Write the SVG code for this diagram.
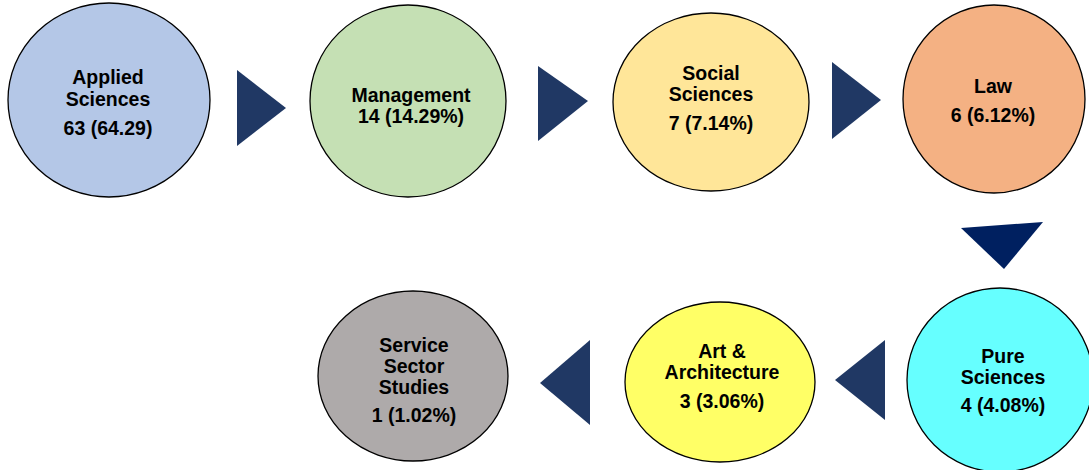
<svg xmlns="http://www.w3.org/2000/svg" width="1089" height="470" viewBox="0 0 1089 470">
<style>
.n ellipse{stroke:#000;stroke-width:1.3}
.t{font-family:"Liberation Sans",Arial,sans-serif;font-weight:bold;font-size:19.5px;fill:#000;text-anchor:middle}
.a{fill:#203864}
</style>
<rect width="1089" height="470" fill="#fff"/>
<g id="connectors">
<polygon class="a" points="237,70 286,108 237,146"/>
<polygon class="a" points="538,66 588,101 538,141"/>
<polygon class="a" points="832,62 881,100 832,139"/>
<polygon class="a" points="961,228 1043,222 1004,269" style="fill:#002060"/>
<polygon class="a" points="885,340 835,380 885,420"/>
<polygon class="a" points="590,340 540,383 590,425"/>
</g>
<g id="applied" class="n"><ellipse cx="109" cy="100" rx="101" ry="97" fill="#b4c7e7"/>
<text class="t" x="108" y="84">Applied</text><text class="t" x="108" y="106">Sciences</text><text class="t" x="108" y="135">63 (64.29)</text></g>
<g id="management" class="n"><ellipse cx="408" cy="101" rx="98" ry="96" fill="#c5e0b4"/>
<text class="t" x="411" y="102">Management</text><text class="t" x="411" y="123">14 (14.29%)</text></g>
<g id="social" class="n"><ellipse cx="711" cy="102" rx="98" ry="89" fill="#ffe699"/>
<text class="t" x="711" y="80">Social</text><text class="t" x="711" y="101">Sciences</text><text class="t" x="711" y="130">7 (7.14%)</text></g>
<g id="law" class="n"><ellipse cx="994" cy="99" rx="91" ry="94" fill="#f4b183"/>
<text class="t" x="993" y="93">Law</text><text class="t" x="993" y="122">6 (6.12%)</text></g>
<g id="pure" class="n"><ellipse cx="1000" cy="380" rx="93" ry="92" fill="#66ffff"/>
<text class="t" x="1003" y="363">Pure</text><text class="t" x="1003" y="384">Sciences</text><text class="t" x="1003" y="412">4 (4.08%)</text></g>
<g id="art" class="n"><ellipse cx="720" cy="382" rx="95" ry="80" fill="#ffff66"/>
<text class="t" x="722" y="358">Art &amp;</text><text class="t" x="722" y="379">Architecture</text><text class="t" x="722" y="408">3 (3.06%)</text></g>
<g id="service" class="n"><ellipse cx="413" cy="376" rx="95" ry="85" fill="#aeaaaa"/>
<text class="t" x="414" y="352">Service</text><text class="t" x="414" y="373">Sector</text><text class="t" x="414" y="394">Studies</text><text class="t" x="414" y="422">1 (1.02%)</text></g>
</svg>
